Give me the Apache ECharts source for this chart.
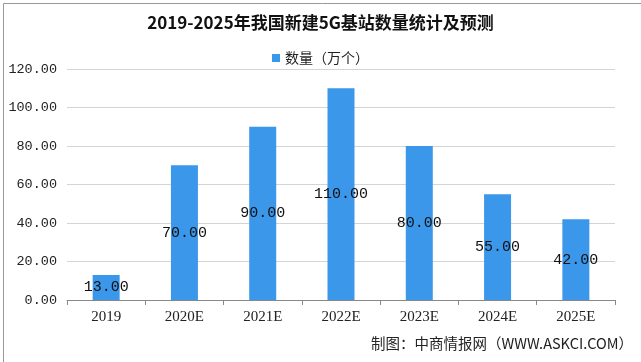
<!DOCTYPE html>
<html><head><meta charset="utf-8">
<script src="https://cdn.jsdelivr.net/npm/echarts@6/dist/echarts.min.js"></script>
<style>html,body{margin:0;padding:0;background:#fff}#c{width:641px;height:362px}</style>
</head><body><div id="c"></div>
<script>
const categories = ['2019','2020E','2021E','2022E','2023E','2024E','2025E'];
const values = [13, 70, 90, 110, 80, 55, 42];
const seriesName = '数量（万个）';
const titleText = '2019-2025年我国新建5G基站数量统计及预测';
const sourceText = '制图：中商情报网（WWW.ASKCI.COM）';

const chart = echarts.init(document.getElementById('c'));
chart.setOption({
  animation: false,
  backgroundColor: '#fff',
  title: {
    text: titleText, left: 'center', top: 9,
    textStyle: {fontFamily: 'Noto Sans CJK SC', fontWeight: 'bold', fontSize: 17, color: '#111'}
  },
  legend: {
    data: [seriesName], top: 46, left: 'center', itemWidth: 8, itemHeight: 8, icon: 'rect', itemGap: 4,
    textStyle: {fontFamily: 'Noto Sans CJK SC', fontSize: 14, color: '#222'}
  },
  grid: {left: 67, right: 26, top: 69, bottom: 62},
  xAxis: {
    type: 'category', data: categories,
    axisLine: {lineStyle: {color: '#888'}},
    axisTick: {show: true, length: 5, lineStyle: {color: '#888'}},
    axisLabel: {fontFamily: 'Liberation Serif', fontSize: 15, color: '#222', margin: 10}
  },
  yAxis: {
    type: 'value', min: 0, max: 120, interval: 20,
    axisLine: {show: false}, axisTick: {show: false},
    splitLine: {lineStyle: {color: '#d4d4d4'}},
    axisLabel: {formatter: v => v.toFixed(2), fontFamily: 'Liberation Mono', fontSize: 13.5, color: '#222', margin: 10}
  },
  series: [{
    name: seriesName, type: 'bar', data: values, barWidth: 27,
    itemStyle: {color: '#3b97ea'},
    label: {show: true, position: 'inside', formatter: p => p.value.toFixed(2),
      fontFamily: 'Liberation Mono', fontSize: 15, color: '#111'}
  }],
  graphic: [
    {type: 'rect', left: 1, top: 1, shape: {width: 638, height: 359}, style: {fill: 'none', stroke: '#999', lineWidth: 1}, silent: true},
    {type: 'text', right: 8, top: 336, style: {text: sourceText, font: '14.5px "Noto Sans CJK SC"', fill: '#222'}}
  ]
});
</script></body></html>
